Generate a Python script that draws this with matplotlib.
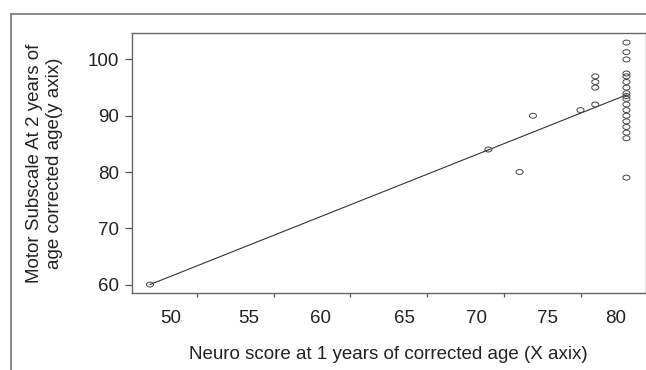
import numpy as np
import matplotlib
matplotlib.use("Agg")
import matplotlib.pyplot as plt
from matplotlib.path import Path
from matplotlib.transforms import Affine2D
from matplotlib.lines import Line2D

plt.rcParams["font.family"] = ["Liberation Sans", "DejaVu Sans"]

# neuro score at 1 year (x) vs motor subscale at 2 years (y)
neuro = [48.6, 71.4, 73.5, 74.4, 77.6, 78.6, 78.6, 78.6, 78.6,
         80.7, 80.7, 80.7, 80.7, 80.7, 80.7, 80.7, 80.7, 80.7,
         80.7, 80.7, 80.7, 80.7, 80.7, 80.7, 80.7, 80.7, 80.7]
motor = [60, 84, 80, 90, 91, 97, 96, 95, 92,
         103, 101.3, 100, 97.5, 97, 96, 95, 94, 93.5,
         93, 92, 91, 90, 89, 88, 87, 86, 79]

# fitted line end points
fit_x = [48.6, 80.7]
fit_y = [60, 93.7]

xtick_labels = ["50", "55", "60", "65", "70", "75", "80"]
# labels sit a little unevenly in the source picture
xlabel_pos = [50, 55.23, 60.07, 65.73, 70.58, 75.41, 80]
xtick_marks = [51.75, 56.93, 62.10, 67.28, 72.45, 77.63]
yticks = [60, 70, 80, 90, 100]

fig = plt.figure(figsize=(6.46, 3.70), dpi=100)
ax = fig.add_axes([0.2039, 0.2081, 0.7957, 0.7027])

ellipse = Path.unit_circle().transformed(Affine2D().scale(1, 0.7))
ax.plot(fit_x, fit_y, color="#333333", lw=0.8, zorder=2)
ax.scatter(neuro, motor, marker=ellipse, s=26, facecolors="none",
           edgecolors="#444444", linewidths=0.7, zorder=3)

ax.set_xlim(47.37, 82.0)
ax.set_ylim(58.5, 104.7)

ax.set_xticks(xlabel_pos)
ax.set_xticklabels(xtick_labels)
ax.set_xticks(xtick_marks, minor=True)
ax.tick_params(axis="x", which="major", length=0, pad=12, labelsize=13.5,
               labelcolor="#222222")
ax.tick_params(axis="x", which="minor", length=3, width=0.9, color="#555555",
               direction="out")
ax.set_yticks(yticks)
ax.tick_params(axis="y", length=5, width=0.9, color="#555555", pad=4,
               labelsize=13.5, labelcolor="#222222")

for s in ax.spines.values():
    s.set_color("#666666")
    s.set_linewidth(1.0)

ax.set_xlabel("Neuro score at 1 years of corrected age (X axix)",
              fontsize=13.5, color="#222222")
ax.xaxis.set_label_coords(0.5, -0.205)
ax.set_ylabel("Motor Subscale At 2 years of\nage corrected age(y axix)",
              fontsize=13.5, color="#222222", linespacing=1.2)
ax.yaxis.set_label_coords(-0.134, 0.5)

# outer frame lines from the source figure
fig.add_artist(Line2D([11 / 646, 1.0], [1 - 14 / 370, 1 - 14 / 370],
                      transform=fig.transFigure, color="#777777", lw=1.2))
fig.add_artist(Line2D([11 / 646, 11 / 646], [0, 1 - 14 / 370],
                      transform=fig.transFigure, color="#777777", lw=1.2))

fig.savefig("out.png", dpi=100)
